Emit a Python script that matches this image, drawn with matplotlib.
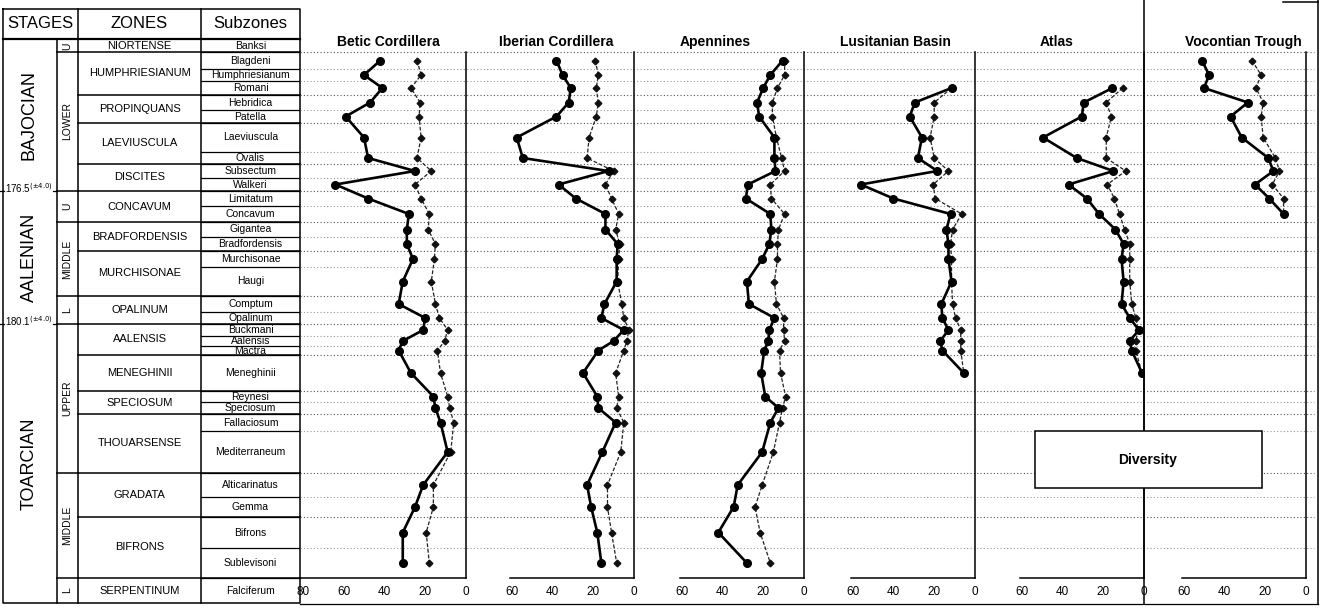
import numpy as np
import matplotlib
matplotlib.use('Agg')
import matplotlib.pyplot as plt
from matplotlib.patches import Rectangle

plt.rcParams['font.family'] = ['Liberation Sans', 'DejaVu Sans']

# ammonite subzones, youngest at top
subzones = ['Banksi', 'Blagdeni', 'Humphriesianum', 'Romani', 'Hebridica', 'Patella',
            'Laeviuscula', 'Ovalis', 'Subsectum', 'Walkeri', 'Limitatum', 'Concavum',
            'Gigantea', 'Bradfordensis', 'Murchisonae', 'Haugi', 'Comptum', 'Opalinum',
            'Buckmani', 'Aalensis', 'Mactra', 'Meneghinii', 'Reynesi', 'Speciosum',
            'Fallaciosum', 'Mediterraneum', 'Alticarinatus', 'Gemma', 'Bifrons',
            'Sublevisoni', 'Falciferum']
zones = ['NIORTENSE', 'HUMPHRIESIANUM', 'PROPINQUANS', 'LAEVIUSCULA', 'DISCITES',
         'CONCAVUM', 'BRADFORDENSIS', 'MURCHISONAE', 'OPALINUM', 'AALENSIS',
         'MENEGHINII', 'SPECIOSUM', 'THOUARSENSE', 'GRADATA', 'BIFRONS', 'SERPENTINUM']
zone_n = [1, 3, 2, 2, 2, 2, 2, 2, 2, 3, 1, 2, 2, 2, 2, 1]
substages = ['U', 'LOWER', 'U', 'MIDDLE', 'L', 'UPPER', 'MIDDLE', 'L']
substage_n = [1, 9, 2, 4, 2, 8, 4, 1]
stages = ['BAJOCIAN', 'AALENIAN', 'TOARCIAN']
stage_n = [10, 8, 13]
ages = [r'176.5$^{(\pm4.0)}$', r'180.1$^{(\pm4.0)}$']

nan = np.nan
regions = ['Betic Cordillera', 'Iberian Cordillera', 'Apennines',
           'Lusitanian Basin', 'Atlas', 'Vocontian Trough']

# thick curve (circles), one value per subzone
betic_a = [nan, 42, 50, 41, 47, 59, 50, 48, 25, 64, 48, 28, 29, 29, 26, 31, 33, 20,
           21, 31, 33, 27, 16, 15, 12.5, 9, 21, 25, 31, 31, nan]
iberian_a = [nan, 38, 35, 31, 32, 38, 57.5, 54.5, 12.5, 37, 28.5, 14, 14, 8, 8.5, 8.5,
             14.5, 16, 5, 10, 17.5, 25, 18, 17.5, 9, 15.5, 23, 21, 18, 16, nan]
apennines_a = [nan, 10.5, 16.5, 20, 23, 22, 14.5, 14.5, 14, 27.5, 28.5, 16.5, 16, 17,
               20.5, 28, 27, 14.5, 17, 17.5, 19.5, 21, 19, 12.5, 16.5, 20.5, 32.5,
               34.5, 42, 28, nan]
lusitanian_a = [nan, nan, nan, 11.5, 29.5, 32, 26, 28, 18.5, 56, 40, 12, 14, 13, 13,
                11.5, 16.5, 16, 13, 17, 16, 5.5] + [nan] * 9
atlas_a = [nan, nan, nan, 15.5, 29.5, 30.5, 49.5, 33, 15, 37, 28, 22, 14, 10, 11, 10,
           11, 7, 2.5, 7, 6, 1] + [nan] * 9
vocontian_a = [nan, 51, 47.5, 50, 28.5, 37, 31.5, 18.5, 16, 25, 18, 11] + [nan] * 19

# thin dashed curve (diamonds)
betic_b = [nan, 24, 22, 27, 22.5, 23, 22, 24, 17, 25, 22, 18, 18.5, 15, 15.5, 17, 15,
           13, 9, 10.5, 14, 12.5, 9, 8, 6, 7.5, 16, 16, 19.5, 18, nan]
iberian_b = [nan, 19, 17.5, 18.5, 17.5, 18.5, 22, 23, 10, 14, 11, 7.5, 9, 7, 7.5, 8, 6,
             5, 2.5, 3.5, 5, 9, 7.5, 8.5, 5, 6.5, 13, 13, 11, 8.5, nan]
apennines_b = [nan, 9.5, 9.5, 13, 15.5, 15.5, 13.5, 11, 9.5, 16.5, 16, 9.5, 12.5, 13,
               13, 14.5, 13.5, 10, 10, 9.5, 12, 11.5, 9, 10.5, 12, 15, 20.5, 24, 21.5,
               16.5, nan]
lusitanian_b = [nan, nan, nan, 11.5, 20, 20, 22, 20, 13, 20.5, 19.5, 6.5, 11, 12, 11.5,
                11.5, 11, 9.5, 7, 7, 7, 5.5] + [nan] * 9
atlas_b = [nan, nan, nan, 10.5, 18.5, 16, 18.5, 18.5, 9, 18, 14.5, 12, 9.5, 7, 7, 7, 6,
           4, 3, 4, 4, 1] + [nan] * 9
vocontian_b = [nan, 26.5, 22, 24.5, 21, 22, 21, 15, 13, 16.5, 11, 11] + [nan] * 19

series_a = [betic_a, iberian_a, apennines_a, lusitanian_a, atlas_a, vocontian_a]
series_b = [betic_b, iberian_b, apennines_b, lusitanian_b, atlas_b, vocontian_b]
x_ticks = [[80, 60, 40, 20, 0]] + [[60, 40, 20, 0]] * 5

# page layout in pixels
W, H = 1323, 608
edges = [40, 52, 69, 81, 95, 110, 123, 152, 164, 178, 191, 206, 222, 237, 251, 267,
         296, 312, 324, 336, 346, 355, 391, 402, 414, 431, 473, 497, 517, 548, 578, 603]
centers = [(edges[i] + edges[i + 1]) / 2 for i in range(len(subzones))]
c0, c1, c2, c3, c4 = 3, 57, 78, 201, 300
top, head = 9, 39
panel_left = [300, 466, 634, 804, 975, 1144]
panel_zero = [466, 634, 804, 975, 1144, 1306]
title_x = [388, 556, 715, 895, 1057, 1243]
K = 2.04          # px per unit of diversity
y_top, y_bot = 40, 578

fig = plt.figure(figsize=(W / 100, H / 100), dpi=100)
bg = fig.add_axes([0, 0, 1, 1])
bg.set_xlim(0, W)
bg.set_ylim(H, 0)
bg.axis('off')

lk = dict(color='black', lw=1.1)

# table frame
bg.plot([c0, c4, c4, c0, c0], [top, top, 603, 603, top], **lk)
bg.plot([c0, c4], [head, head], color='black', lw=1.6)
for x in (c2, c3):
    bg.plot([x, x], [top, 603], **lk)
bg.plot([c1, c1], [head, 603], **lk)
bg.text((c0 + c2) / 2, 23, 'STAGES', ha='center', va='center', fontsize=12)
bg.text((c2 + c3) / 2, 23, 'ZONES', ha='center', va='center', fontsize=12)
bg.text((c3 + c4) / 2, 23, 'Subzones', ha='center', va='center', fontsize=12)

# subzone column
for i, name in enumerate(subzones):
    bg.text((c3 + c4) / 2, centers[i], name, ha='center', va='center', fontsize=7.5)
    if i > 0:
        bg.plot([c3, c4], [edges[i], edges[i]], color='black', lw=0.9)

# zones
k = 0
for name, n in zip(zones, zone_n):
    bg.text((c2 + c3) / 2, (edges[k] + edges[k + n]) / 2, name,
            ha='center', va='center', fontsize=8)
    k += n
    if k < len(subzones):
        bg.plot([c2, c4], [edges[k], edges[k]], **lk)

# substages
k = 0
for name, n in zip(substages, substage_n):
    bg.text((c1 + c2) / 2, (edges[k] + edges[k + n]) / 2, name, rotation=90,
            ha='center', va='center', fontsize=7.5)
    k += n
    if k < len(subzones):
        bg.plot([c1, c2], [edges[k], edges[k]], **lk)

# stages and boundary ages
k = 0
for j, (name, n) in enumerate(zip(stages, stage_n)):
    bg.text(29, (edges[k] + edges[k + n]) / 2, name, rotation=90,
            ha='center', va='center', fontsize=13)
    k += n
    if j < len(ages):
        yb = edges[k]
        bg.plot([0, 4], [yb, yb], color='black', lw=0.9)
        bg.plot([53, c1], [yb, yb], color='black', lw=0.9)
        bg.text(5, yb - 3, ages[j], ha='left', va='center', fontsize=7)

# dotted subzone lines across the panels
zone_edges = set(np.cumsum(zone_n)[:-1])
for i in range(1, len(edges) - 2):
    col = '#555555' if i in zone_edges else '#999999'
    bg.plot([c4, 1314], [edges[i], edges[i]], color=col, lw=0.8,
            linestyle=(0, (1, 2)))

# outer lines on the right and bottom
bg.plot([1144, 1144], [0, 604], **lk)
bg.plot([1318, 1318], [0, 604], **lk)
bg.plot([1283, 1318], [2, 2], **lk)
bg.plot([c4, 1318], [604, 604], color='black', lw=0.9)

for j, region in enumerate(regions):
    left, zero = panel_left[j], panel_zero[j]
    ax = fig.add_axes([left / W, 1 - y_bot / H, (zero - left) / W,
                       (y_bot - y_top) / H])
    ax.patch.set_visible(False)
    xmax = (zero - left) / K
    ax.set_xlim(xmax, 0)
    ax.set_ylim(y_bot, y_top)
    ax.plot(series_b[j], centers, color='#222222', lw=0.9, linestyle=(0, (3, 1.5)),
            marker='D', ms=3.4, mfc='#111111', mec='#111111')
    ax.plot(series_a[j], centers, color='black', lw=1.9, marker='o', ms=5.5)
    ax.set_xticks(x_ticks[j])
    ax.set_yticks([])
    ax.tick_params(axis='x', length=0, pad=6, labelsize=8.5)
    for s in ('top', 'left'):
        ax.spines[s].set_visible(False)
    ax.spines['right'].set_bounds(edges[1], y_bot)
    ax.spines['right'].set_linewidth(1.1)
    ax.spines['bottom'].set_bounds(0, xmax if j == 0 else 61)
    ax.spines['bottom'].set_linewidth(1.1)
    bg.text(title_x[j], 42, region, ha='center', va='center',
            fontsize=10, fontweight='bold')

# legend box
over = fig.add_axes([0, 0, 1, 1], zorder=5)
over.set_xlim(0, W)
over.set_ylim(H, 0)
over.axis('off')
over.add_patch(Rectangle((1035, 431), 227, 57, facecolor='white',
                         edgecolor='black', lw=1.1))
over.text(1148, 460, 'Diversity', ha='center', va='center',
          fontsize=10, fontweight='bold')

plt.savefig('out.png', dpi=100)
